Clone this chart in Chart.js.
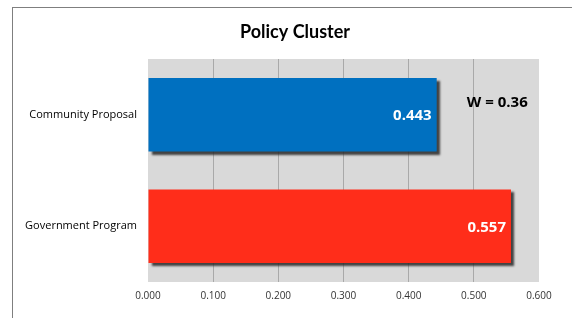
<!DOCTYPE html>
<html>
<head>
<meta charset="utf-8">
<script src="https://cdn.jsdelivr.net/npm/chart.js"></script>
<style>
  html, body { margin: 0; padding: 0; background: #fff; overflow: hidden; width: 572px; height: 318px; }
  #box { position: absolute; left: 12px; top: 7px; width: 580px; height: 330px; border: 1px solid #7f7f7f; background: #fff; }
  canvas { display: block; }
</style>
</head>
<body>
<div id="box"><canvas id="chart" width="580" height="330"></canvas></div>
<script>
const categories = ['Community Proposal', 'Government Program'];
const values = [0.443, 0.557];
const barColors = ['#0070c0', '#ff2d1a'];
const xMin = 0, xMax = 0.6, xStep = 0.1;
const chartTitle = 'Policy Cluster';
const noteText = 'W = 0.36';

const fontFamily = '"Open Sans", "Noto Sans", sans-serif';

// light gray plot background
const plotBackground = {
    id: 'plotBackground',
    beforeDraw(chart) {
        const { ctx, chartArea: a } = chart;
        ctx.save();
        ctx.fillStyle = '#d9d9d9';
        ctx.fillRect(a.left, a.top, a.right - a.left, a.bottom - a.top);
        ctx.restore();
    }
};

// drop shadow under bars
const barShadow = {
    id: 'barShadow',
    beforeDatasetDraw(chart) {
        const ctx = chart.ctx;
        ctx.save();
        ctx.shadowColor = 'rgba(40,40,40,0.85)';
        ctx.shadowOffsetX = 3;
        ctx.shadowOffsetY = 3;
        ctx.shadowBlur = 2;
    },
    afterDatasetDraw(chart) {
        chart.ctx.restore();
    }
};

// value labels inside bars, W note, and title centred on the whole box
const barLabels = {
    id: 'barLabels',
    afterDatasetsDraw(chart) {
        const ctx = chart.ctx;
        const meta = chart.getDatasetMeta(0);
        ctx.save();
        ctx.font = 'bold 15px ' + fontFamily;
        ctx.fillStyle = '#ffffff';
        ctx.textAlign = 'right';
        ctx.textBaseline = 'middle';
        meta.data.forEach((bar, i) => {
            ctx.fillText(values[i].toFixed(3), bar.x - 5, bar.y + 1);
        });
        const xs = chart.scales.x;
        const first = meta.data[0];
        ctx.fillStyle = '#000000';
        ctx.textAlign = 'center';
        ctx.fillText(noteText, xs.getPixelForValue(0.536), first.y - 12);

        ctx.font = 'bold 18px Lato, ' + fontFamily;
        ctx.fillText(chartTitle, 282, 24);
        ctx.restore();
    }
};

new Chart(document.getElementById('chart').getContext('2d'), {
    type: 'bar',
    data: {
        labels: categories,
        datasets: [{
            data: values,
            backgroundColor: barColors,
            borderWidth: 0,
            barPercentage: 1,
            categoryPercentage: 0.66
        }]
    },
    options: {
        indexAxis: 'y',
        responsive: false,
        animation: false,
        layout: { padding: { left: 0, right: 54, top: 51, bottom: 0 } },
        plugins: {
            legend: { display: false },
            tooltip: { enabled: false },
            title: { display: false }
        },
        scales: {
            x: {
                min: xMin,
                max: xMax,
                border: { display: false },
                grid: {
                    drawTicks: false,
                    color: ctx => (ctx.tick && (ctx.tick.value <= xMin || ctx.tick.value >= xMax)) ? 'rgba(0,0,0,0)' : '#a9a9a9',
                    lineWidth: 1
                },
                ticks: {
                    stepSize: xStep,
                    padding: 8,
                    color: '#333',
                    font: { family: fontFamily, size: 10 },
                    callback: v => Number(v).toFixed(3)
                },
                afterFit(scale) { scale.height = 56; }
            },
            y: {
                border: { display: false },
                grid: { display: false, drawTicks: false },
                ticks: {
                    padding: 11,
                    color: '#000',
                    font: { family: fontFamily, size: 11 }
                },
                afterFit(scale) { scale.width = 135; }
            }
        }
    },
    plugins: [plotBackground, barShadow, barLabels]
});
</script>
</body>
</html>
